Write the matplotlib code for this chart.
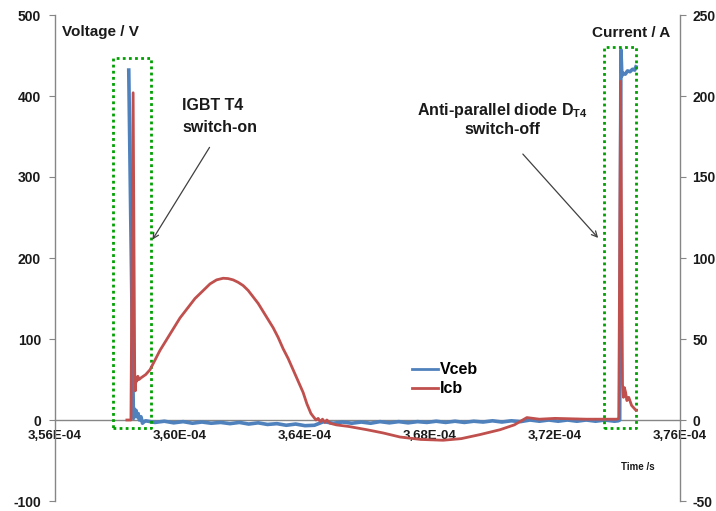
import matplotlib
matplotlib.use("Agg")
import matplotlib.pyplot as plt
from matplotlib.ticker import FuncFormatter
from matplotlib.lines import Line2D

plt.rcParams['font.family'] = ['Liberation Sans', 'DejaVu Sans']
plt.rcParams['mathtext.fontset'] = 'custom'
plt.rcParams['mathtext.rm'] = 'Liberation Sans'
plt.rcParams['mathtext.bf'] = 'Liberation Sans:bold'
plt.rcParams['axes.unicode_minus'] = False

# ---------------- data (time in units of 1e-4 s) ----------------
vceb_t = [3.5836, 3.5851, 3.5853, 3.5856, 3.5859, 3.5862, 3.5866, 3.5870, 3.5875, 3.5880, 3.5885,
          3.589, 3.592, 3.595, 3.598, 3.601, 3.604, 3.607, 3.610, 3.613, 3.616, 3.619, 3.622,
          3.625, 3.628, 3.631, 3.634, 3.637, 3.640, 3.643, 3.646, 3.649, 3.652, 3.655, 3.658,
          3.661, 3.664, 3.667, 3.670, 3.673, 3.676, 3.679, 3.682, 3.685, 3.688, 3.691, 3.694,
          3.697, 3.700, 3.703, 3.706, 3.709, 3.712, 3.715, 3.718, 3.721, 3.724, 3.727, 3.730,
          3.733, 3.736, 3.739, 3.7402, 3.7407, 3.7411, 3.7414, 3.7418, 3.7425, 3.7432, 3.7440,
          3.7448, 3.7455, 3.7459]
vceb_v = [432, 2, 14, 8, 12, 4, 8, 0, 4, -4, -2,
          -1, -3, -1.5, -3.5, -2, -4, -2.5, -4, -3, -4.5, -3, -5,
          -3.5, -5.5, -4.5, -6.5, -5, -7, -6.5, -2, -4, -2.5, -4, -2.5,
          -4, -2, -3.5, -2, -3.5, -2, -3, -1.5, -3, -1.5, -3, -1.5,
          -2.5, -1, -2.5, -1, -2, 0, -1.5, 0, -1.5, 0, -1.5, 0,
          -1.5, 0, -1.5, -1, 0, 457, 425, 428, 427, 431, 430,
          433, 432, 436]

icb_t = [3.5830, 3.5843, 3.5850, 3.5855, 3.5857, 3.5859, 3.5862, 3.5865, 3.5869, 3.5875, 3.5890,
         3.5904, 3.5920, 3.5936, 3.5952, 3.5968, 3.5984, 3.6000, 3.6016, 3.6032, 3.6048,
         3.6064, 3.6080, 3.6096, 3.6117, 3.6138, 3.6154, 3.6170, 3.6186, 3.6202, 3.6218,
         3.6234, 3.6250, 3.6266, 3.6282, 3.6298, 3.6314, 3.6330, 3.6346, 3.6362, 3.6378,
         3.6394, 3.6406, 3.6419, 3.6435, 3.6442, 3.6449,
         3.6456, 3.6463, 3.6470, 3.6480, 3.6500, 3.6540, 3.6598, 3.6650, 3.6704, 3.6770,
         3.6842, 3.6900, 3.6960, 3.7024, 3.7070, 3.7110, 3.7150, 3.7200, 3.7300, 3.7398,
         3.7404, 3.7410, 3.7416, 3.7419, 3.7422, 3.7426, 3.7430, 3.7436, 3.7445, 3.7459]
icb_i = [0, 0, 202, 30, 18, 26, 24, 27, 25, 26, 28,
         31, 37, 43, 48, 53, 58, 63, 67, 71, 75,
         78, 81, 84, 86.5, 87.5, 87.3, 86.5, 85, 83, 80,
         76, 72, 67, 62, 57, 51, 44, 38, 31, 24,
         17, 10, 4, 0, 1, -1,
         0.5, -1.5, 0, -2, -3, -4, -6, -8, -10.5, -12,
         -12.5, -11.5, -9, -6, -3, 1.5, 0.5, 1, 0.5, 0.5,
         1, 209, 22, 14, 20, 17, 12, 14, 9, 6]

x_ticks = [3.56, 3.60, 3.64, 3.68, 3.72, 3.76]
v_ticks = [-100, 0, 100, 200, 300, 400, 500]
i_ticks = [-50, 0, 50, 100, 150, 200, 250]

BLUE = '#4F81BD'
RED = '#C0504D'
GREEN = '#00A000'
GRAY = '#868686'
TXT = '#1a1a1a'

fig = plt.figure(figsize=(7.16, 5.11), dpi=100)
ax1 = fig.add_axes([55/716, 10/511, 625/716, 486/511])
ax2 = ax1.twinx()

ax1.plot([t*1e-4 for t in vceb_t], vceb_v, color=BLUE, lw=2.6, zorder=3)
ax2.plot([t*1e-4 for t in icb_t], icb_i, color=RED, lw=2.0, zorder=3)

ax1.set_xlim(3.56e-4, 3.76e-4)
ax1.set_ylim(-100, 500)
ax2.set_ylim(-50, 250)

ax1.set_xticks([x*1e-4 for x in x_ticks])
ax1.xaxis.set_major_formatter(FuncFormatter(lambda v, p: f"{v:.2E}".replace('.', ',')))
ax1.set_yticks(v_ticks)
ax2.set_yticks(i_ticks)

for ax in (ax1, ax2):
    ax.spines['top'].set_visible(False)
    for s in ('left', 'right', 'bottom'):
        ax.spines[s].set_color(GRAY)
        ax.spines[s].set_linewidth(1.0)
ax1.spines['right'].set_visible(False)
ax2.spines['left'].set_visible(False)
ax2.spines['bottom'].set_visible(False)
ax1.spines['bottom'].set_position(('data', 0))

ax1.tick_params(axis='x', length=0, pad=7, labelsize=9.5, labelcolor=TXT)
ax1.tick_params(axis='y', length=4, color=GRAY, pad=6, labelsize=10, labelcolor=TXT)
ax2.tick_params(axis='y', length=4, color=GRAY, pad=5, labelsize=10, labelcolor=TXT)
for lab in ax1.get_xticklabels() + ax1.get_yticklabels() + ax2.get_yticklabels():
    lab.set_fontweight('bold')

# green dotted boxes
box_kw = dict(color=GREEN, lw=2.0, ls=(0, (1, 1.2)), zorder=4)
for (x0, x1, y0, y1) in [(3.5786e-4, 3.5907e-4, -10, 447), (3.7357e-4, 3.7459e-4, -10, 460)]:
    ax1.plot([x0, x1, x1, x0, x0], [y0, y0, y1, y1, y0], **box_kw)

# texts
fig.text(62/716, 1 - 32/511, 'Voltage / V', fontsize=11, fontweight='bold', color=TXT, va='center', ha='left')
fig.text(670/716, 1 - 33/511, 'Current / A', fontsize=11, fontweight='bold', color=TXT, va='center', ha='right')
fig.text(638/716, 1 - 467/511, 'Time /s', fontsize=7, fontweight='bold', color=TXT, va='center', ha='center')

fig.text(182/716, 1 - 106/511, 'IGBT T4', fontsize=11.5, fontweight='bold', color=TXT, va='center', ha='left')
fig.text(182/716, 1 - 127/511, 'switch-on', fontsize=11.5, fontweight='bold', color=TXT, va='center', ha='left')
fig.text(502/716, 1 - 110/511, r'Anti-parallel diode D$_{\mathbf{T4}}$', fontsize=11.5, fontweight='bold', color=TXT, va='center', ha='center')
fig.text(502/716, 1 - 129/511, 'switch-off', fontsize=11.5, fontweight='bold', color=TXT, va='center', ha='center')

arrow_kw = dict(arrowstyle='->', color='#404040', lw=0.9, mutation_scale=10)
fig.add_artist(matplotlib.patches.FancyArrowPatch((211/716, 1 - 145/511), (151/716, 1 - 242/511),
                                                  transform=fig.transFigure, **arrow_kw))
fig.add_artist(matplotlib.patches.FancyArrowPatch((521/716, 1 - 152/511), (600/716, 1 - 240/511),
                                                  transform=fig.transFigure, **arrow_kw))

handles = [Line2D([], [], color=BLUE, lw=2.0), Line2D([], [], color=RED, lw=2.0)]
leg = fig.legend(handles, ['Vceb', 'Icb'], loc='upper left', bbox_to_anchor=(398/716, 1 - 348/511),
                 frameon=False, handlelength=1.6, handletextpad=0.15, labelspacing=0.25,
                 prop={'weight': 'bold', 'size': 11.5})

fig.savefig('out.png', dpi=100, facecolor='white')
